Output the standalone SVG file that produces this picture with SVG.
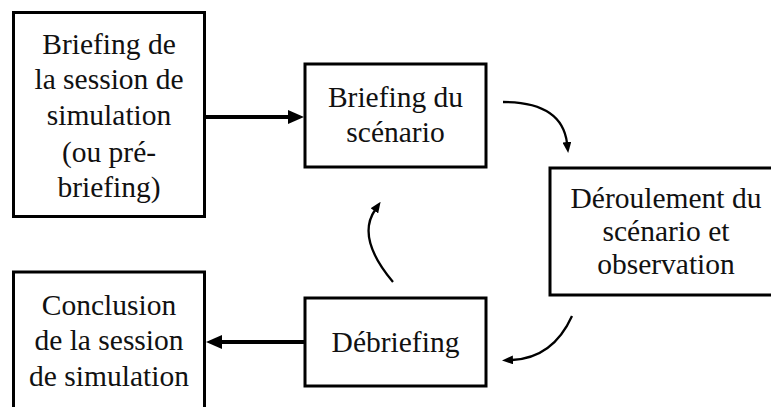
<svg xmlns="http://www.w3.org/2000/svg" width="771" height="407" viewBox="0 0 771 407">
<style>
.box{fill:#fff;stroke:#000;stroke-width:3}
.t{font-family:"Liberation Serif","Times New Roman",serif;font-size:29.5px;fill:#111;text-anchor:middle}
.thick{stroke:#000;stroke-width:4;fill:none}
.thin{stroke:#000;stroke-width:2.3;fill:none}
</style>
<defs>
<marker id="big" markerUnits="userSpaceOnUse" markerWidth="16" markerHeight="14" refX="2" refY="7" orient="auto"><path d="M0,0 L16,7 L0,14 z" fill="#000"/></marker>
<marker id="small" markerUnits="userSpaceOnUse" markerWidth="11" markerHeight="9" refX="1" refY="4.5" orient="auto"><path d="M0,0 L11,4.5 L0,9 z" fill="#000"/></marker>
</defs>
<rect width="771" height="407" fill="#fff"/>
<g id="connectors">
<line class="thick" x1="206" y1="117" x2="290" y2="117" marker-end="url(#big)"/>
<line class="thick" x1="304" y1="342" x2="220" y2="342" marker-end="url(#big)"/>
<path class="thin" d="M503,102 Q562,102 567,143" marker-end="url(#small)"/>
<path class="thin" d="M572,316 Q553,358 512,360" marker-end="url(#small)"/>
<path class="thin" d="M393,282 Q356,238 375,210" marker-end="url(#small)"/>
</g>
<g id="n1">
<rect class="box" x="13.5" y="12.5" width="191" height="204"/>
<text class="t" x="109" y="54">Briefing de</text>
<text class="t" x="109" y="89">la session de</text>
<text class="t" x="109" y="125">simulation</text>
<text class="t" x="109" y="162">(ou pré-</text>
<text class="t" x="109" y="197">briefing)</text>
</g>
<g id="n2">
<rect class="box" x="305" y="64" width="181" height="103"/>
<text class="t" x="395.5" y="107">Briefing du</text>
<text class="t" x="395.5" y="142">scénario</text>
</g>
<g id="n3">
<rect class="box" x="550" y="168" width="225" height="127"/>
<text class="t" x="666" y="208">Déroulement du</text>
<text class="t" x="666" y="241">scénario et</text>
<text class="t" x="666" y="274">observation</text>
</g>
<g id="n4">
<rect class="box" x="13.5" y="272" width="191" height="140"/>
<text class="t" x="109" y="315">Conclusion</text>
<text class="t" x="109" y="350">de la session</text>
<text class="t" x="109" y="386">de simulation</text>
</g>
<g id="n5">
<rect class="box" x="305" y="298" width="181" height="88"/>
<text class="t" x="395.5" y="352">Débriefing</text>
</g>
</svg>
